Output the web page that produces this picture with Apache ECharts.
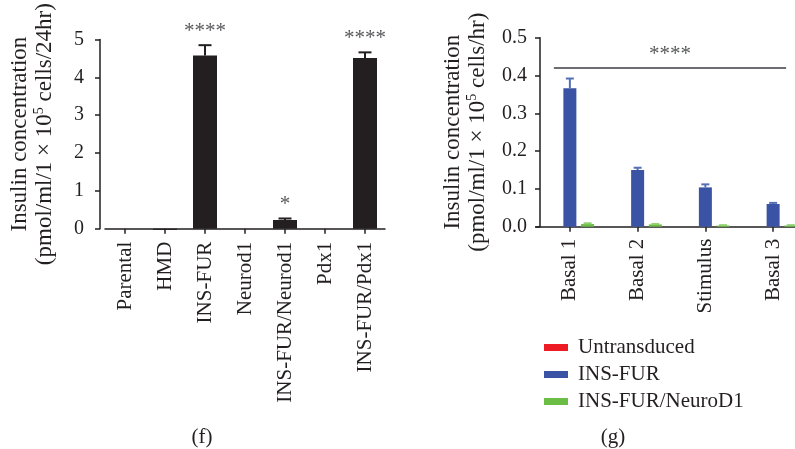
<!DOCTYPE html>
<html>
<head>
<meta charset="utf-8">
<script src="https://cdn.jsdelivr.net/npm/echarts@6/dist/echarts.min.js"></script>
<style>html,body{margin:0;padding:0;background:#fff;}#c{width:795px;height:449px;}</style>
</head>
<body>
<div id="c"></div>
<script>
// ---- Data: panel (f) ----
const fCategories = ['Parental', 'HMD', 'INS-FUR', 'Neurod1', 'INS-FUR/Neurod1', 'Pdx1', 'INS-FUR/Pdx1'];
const fValues = [0, -0.03, 4.58, 0, 0.23, 0, 4.51];
const fErrors = [0, 0, 0.27, 0, 0.04, 0, 0.15];
const fSig = ['', '', '****', '', '*', '', '****'];
const fTicks = [0, 1, 2, 3, 4, 5];

// ---- Data: panel (g) ----
const gCategories = ['Basal 1', 'Basal 2', 'Stimulus', 'Basal 3'];
const gSeriesNames = ['Untransduced', 'INS-FUR', 'INS-FUR/NeuroD1'];
const gUntransduced = [0, 0, 0, 0];
const gInsFur = [0.366, 0.150, 0.104, 0.060];
const gInsFurErr = [0.026, 0.006, 0.008, 0.003];
const gNeuroD1 = [0.007, 0.006, 0.003, 0.003];
const gNeuroD1Err = [0.002, 0.001, 0.001, 0.001];
const gSigLevel = 0.42;
const gSigText = '****';
const gTicks = [0, 0.1, 0.2, 0.3, 0.4, 0.5];

const FONT = "'Liberation Serif', 'DejaVu Serif', serif";
const INK = '#231f20';
const RED = '#ed1c24', BLUE = '#3a53a4', GREEN = '#6cbd45';

function errRenderer(color, capHalf, dx, sigArr) {
  return function (params, api) {
    const i = api.value(0), v = api.value(1), e = api.value(2);
    const base = api.coord([i, v]);
    const top = api.coord([i, v + e]);
    const x = base[0] + dx;
    const children = [];
    if (e > 0) {
      children.push({type: 'line', shape: {x1: x, y1: base[1], x2: x, y2: top[1]}, style: {stroke: color, lineWidth: 2}});
      children.push({type: 'line', shape: {x1: x - capHalf, y1: top[1], x2: x + capHalf, y2: top[1]}, style: {stroke: color, lineWidth: 2}});
    }
    if (sigArr && sigArr[params.dataIndex]) {
      children.push({type: 'text', x: x, y: top[1] - 3, style: {text: sigArr[params.dataIndex], textAlign: 'center', textVerticalAlign: 'bottom', font: '21px ' + FONT, fill: '#58595b'}});
    }
    return {type: 'group', children: children};
  };
}

const axisLine = {show: true, lineStyle: {color: INK, width: 1.5}};
const axisTick = {show: true, length: 5, lineStyle: {color: INK, width: 1.5}};
const richSup = {s: {fontSize: 14, fontFamily: FONT, color: INK, verticalAlign: 'top', lineHeight: 25}};

const option = {
  animation: false,
  backgroundColor: '#fff',
  grid: [
    {left: 105, width: 280, top: 39.5, bottom: 220.3, outerBoundsMode: 'none'},
    {left: 536, width: 271, top: 37.7, bottom: 222.3, outerBoundsMode: 'none'}
  ],
  xAxis: [
    {type: 'category', gridIndex: 0, data: fCategories, axisLine: axisLine, axisTick: Object.assign({alignWithLabel: true}, axisTick),
     axisLabel: {rotate: 90, margin: 13, fontSize: 21, fontFamily: FONT, color: INK, interval: 0}},
    {type: 'category', gridIndex: 1, data: gCategories, axisLine: axisLine, axisTick: Object.assign({alignWithLabel: true}, axisTick),
     axisLabel: {rotate: 90, margin: 12, fontSize: 21, fontFamily: FONT, color: INK, interval: 0}}
  ],
  yAxis: [
    {type: 'value', gridIndex: 0, min: fTicks[0], max: fTicks[fTicks.length - 1], interval: 1, offset: 5,
     axisLine: axisLine, axisTick: axisTick, splitLine: {show: false},
     axisLabel: {margin: 16, fontSize: 20, fontFamily: FONT, color: INK},
     name: 'Insulin concentration\n(pmol/ml/1 × 10{s|5} cells/24hr)', nameLocation: 'middle', nameRotate: 90, nameGap: 43,
     nameTextStyle: {fontSize: 23, fontFamily: FONT, color: INK, lineHeight: 25, rich: richSup}},
    {type: 'value', gridIndex: 1, min: gTicks[0], max: gTicks[gTicks.length - 1], interval: 0.1, offset: -4,
     axisLine: axisLine, axisTick: axisTick, splitLine: {show: false},
     axisLabel: {margin: 13, fontSize: 20, fontFamily: FONT, color: INK, formatter: v => v.toFixed(1)},
     name: 'Insulin concentration\n(pmol/ml/1 × 10{s|5} cells/hr)', nameLocation: 'middle', nameRotate: 90, nameGap: 50,
     nameTextStyle: {fontSize: 23, fontFamily: FONT, color: INK, lineHeight: 25, rich: richSup}}
  ],
  legend: {
    orient: 'vertical', left: 539, top: 332, itemWidth: 24, itemHeight: 7, itemGap: 6, icon: 'rect',
    data: gSeriesNames,
    textStyle: {fontSize: 21, fontFamily: FONT, color: INK, padding: [0, 0, 0, 5]}
  },
  graphic: [
    {type: 'text', x: 202, y: 437, style: {text: '(f)', textAlign: 'center', textVerticalAlign: 'middle', font: '21px ' + FONT, fill: INK}},
    {type: 'text', x: 613, y: 437, style: {text: '(g)', textAlign: 'center', textVerticalAlign: 'middle', font: '21px ' + FONT, fill: INK}}
  ],
  series: [
    {type: 'bar', xAxisIndex: 0, yAxisIndex: 0, data: fValues, barWidth: 24, clip: false, itemStyle: {color: INK}},
    {type: 'custom', xAxisIndex: 0, yAxisIndex: 0, clip: false, z: 3,
     data: fCategories.map((c, i) => [i, fValues[i], fErrors[i]]),
     encode: {x: 0, y: [1, 2]},
     renderItem: errRenderer(INK, 6.5, 0, fSig)},
    {name: gSeriesNames[0], type: 'bar', xAxisIndex: 1, yAxisIndex: 1, data: gUntransduced, barWidth: 13, barGap: '36%', itemStyle: {color: RED}},
    {name: gSeriesNames[1], type: 'bar', xAxisIndex: 1, yAxisIndex: 1, data: gInsFur, barWidth: 13, barGap: '36%', itemStyle: {color: BLUE}},
    {name: gSeriesNames[2], type: 'bar', xAxisIndex: 1, yAxisIndex: 1, data: gNeuroD1, barWidth: 13, barGap: '36%', itemStyle: {color: GREEN}},
    {type: 'custom', xAxisIndex: 1, yAxisIndex: 1, z: 3,
     data: gCategories.map((c, i) => [i, gInsFur[i], gInsFurErr[i]]),
     encode: {x: 0, y: [1, 2]},
     renderItem: errRenderer('#5670b5', 4, 0, null)},
    {type: 'custom', xAxisIndex: 1, yAxisIndex: 1, z: 3,
     data: gCategories.map((c, i) => [i, gNeuroD1[i], gNeuroD1Err[i]]),
     encode: {x: 0, y: [1, 2]},
     renderItem: errRenderer('#8fd06f', 4, 17.7, null)},
    {type: 'custom', xAxisIndex: 1, yAxisIndex: 1, z: 3, clip: false,
     data: [[0, gSigLevel, gCategories.length - 1]],
     encode: {x: 0, y: 1},
     renderItem: function (params, api) {
       const a = api.coord([api.value(0), api.value(1)]);
       const b = api.coord([api.value(2), api.value(1)]);
       const x1 = a[0] - 16, x2 = b[0] + 13;
       return {type: 'group', children: [
         {type: 'line', shape: {x1: x1, y1: a[1], x2: x2, y2: a[1]}, style: {stroke: '#6d6e71', lineWidth: 2}},
         {type: 'text', x: (x1 + x2) / 2, y: a[1] - 3, style: {text: gSigText, textAlign: 'center', textVerticalAlign: 'bottom', font: '21px ' + FONT, fill: '#58595b'}}
       ]};
     }}
  ]
};

const chart = echarts.init(document.getElementById('c'), null, {renderer: 'canvas'});
chart.setOption(option);
</script>
</body>
</html>
